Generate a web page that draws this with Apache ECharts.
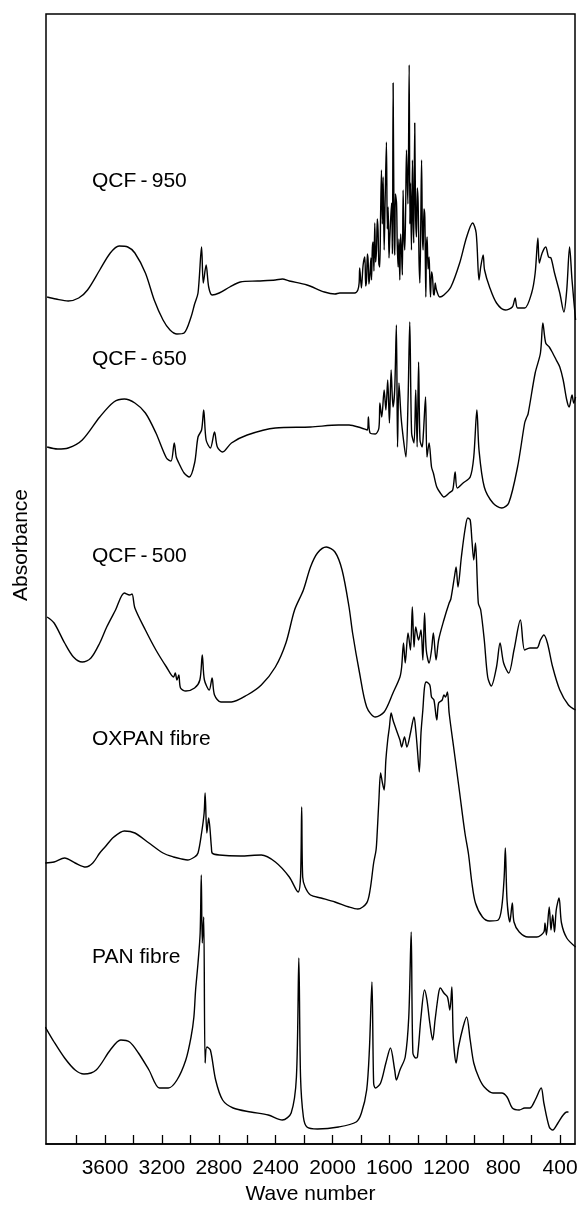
<!DOCTYPE html>
<html>
<head>
<meta charset="utf-8">
<title>IR spectra</title>
<script src="https://cdn.jsdelivr.net/npm/echarts@6/dist/echarts.min.js"></script>
<style>
  html, body { margin: 0; padding: 0; background: #fff; }
  #chart { width: 579px; height: 1206px; }
</style>
</head>
<body>
<div id="chart"></div>
<script>
// Infrared absorbance spectra, stacked with vertical offsets (arbitrary units).
// Each point is [wave number (cm-1), absorbance + offset].

const tickValues = [3800, 3600, 3400, 3200, 3000, 2800, 2600, 2400, 2200, 2000, 1800, 1600, 1400, 1200, 1000, 800, 600, 400];
const labelValues = [3600, 3200, 2800, 2400, 2000, 1600, 1200, 800, 400];

const seriesNames = ['QCF\u2009-\u2009950', 'QCF\u2009-\u2009650', 'QCF\u2009-\u2009500', 'OXPAN fibre', 'PAN fibre'];

const qcf950 = [
  [4007,84.7],[3945,84.5],[3859,84.3],[3785,84.6],[3723,85.4],[3637,87.4],[3563,89.1],[3501,89.8],[3440,89.7],[3390,89.1],
  [3316,87.1],[3254,84.4],[3192,82.4],[3143,81.4],[3094,81.0],[3044,81.1],[2995,82.7],[2970,84.0],[2946,85.1],[2921,89.7],
  [2909,86.1],[2889,87.9],[2871,85.7],[2847,84.9],[2797,85.1],[2723,85.7],[2649,86.2],[2526,86.3],[2402,86.4],[2353,86.5],
  [2304,86.3],[2180,85.9],[2057,85.2],[1983,85.0],[1949,85.1],[1844,85.1],[1822,85.4],[1813,86.1],[1809,87.6],[1797,85.6],
  [1785,87.9],[1773,88.7],[1767,85.8],[1761,86.4],[1755,89.0],[1750,88.4],[1744,86.0],[1738,86.8],[1730,88.6],[1726,86.4],
  [1720,89.6],[1715,90.2],[1709,87.3],[1703,92.1],[1697,88.2],[1691,89.4],[1685,92.5],[1680,91.4],[1674,88.0],[1668,87.7],
  [1662,93.0],[1656,97.4],[1650,92.0],[1644,96.7],[1637,89.4],[1630,94.5],[1621,100.2],[1615,91.5],[1609,93.7],[1603,88.6],
  [1597,90.7],[1585,94.1],[1579,89.0],[1574,106.1],[1567,90.7],[1562,88.9],[1558,95.0],[1550,94.1],[1545,90.0],[1539,87.7],
  [1533,90.5],[1527,86.4],[1521,91.0],[1515,89.4],[1509,86.9],[1504,95.4],[1498,91.0],[1492,89.4],[1486,93.4],[1480,99.4],
  [1470,94.0],[1461,107.9],[1456,92.0],[1452,96.1],[1445,89.4],[1438,98.4],[1433,92.6],[1429,90.1],[1422,102.1],[1416,93.0],
  [1410,90.7],[1404,95.6],[1398,94.1],[1392,88.5],[1386,86.1],[1380,91.5],[1374,98.4],[1368,91.0],[1363,89.4],[1357,93.5],
  [1351,92.7],[1344,84.7],[1340,89.4],[1335,90.7],[1328,87.5],[1321,88.7],[1316,86.4],[1311,84.7],[1304,87.2],[1297,86.7],
  [1290,85.0],[1285,84.9],[1278,86.1],[1269,85.4],[1246,84.7],[1217,84.9],[1168,85.7],[1106,88.1],[1057,90.7],[1015,92.1],
  [990,91.1],[970,86.4],[958,87.7],[941,88.9],[931,87.4],[896,85.7],[847,84.1],[785,83.4],[736,83.7],[716,84.6],
  [699,83.6],[649,83.6],[600,85.1],[575,87.1],[556,90.6],[546,88.1],[526,89.1],[501,89.7],[481,88.7],[464,88.6],
  [439,87.1],[402,85.1],[373,83.2],[353,85.4],[333,89.7],[316,86.4],[291,82.4]
];

const qcf650 = [
  [4007,69.7],[3933,69.5],[3859,69.6],[3760,70.4],[3637,72.7],[3538,74.2],[3464,74.5],[3390,74.1],[3316,73.1],[3242,71.1],
  [3168,68.6],[3136,68.3],[3113,70.1],[3099,68.7],[3081,68.1],[3044,67.1],[3007,66.7],[2970,68.1],[2946,70.7],[2921,71.4],
  [2906,73.4],[2889,70.4],[2859,69.6],[2830,71.2],[2810,69.7],[2773,69.2],[2711,70.1],[2600,70.9],[2402,71.6],[2155,71.7],
  [1958,71.9],[1884,71.9],[1797,71.6],[1755,71.4],[1748,72.7],[1736,71.1],[1699,71.0],[1674,71.6],[1667,74.1],[1654,72.7],
  [1637,75.4],[1625,73.4],[1612,76.4],[1600,72.1],[1588,77.4],[1575,73.7],[1563,75.4],[1551,81.9],[1543,69.7],[1533,76.1],
  [1518,72.7],[1501,70.4],[1484,68.7],[1469,74.4],[1457,82.2],[1444,71.1],[1427,70.1],[1415,75.4],[1405,69.7],[1395,78.2],
  [1385,70.4],[1370,69.7],[1361,71.1],[1346,74.7],[1336,68.7],[1321,70.1],[1304,67.7],[1291,67.1],[1267,65.7],[1242,65.1],
  [1217,64.7],[1180,65.1],[1155,65.4],[1138,67.2],[1123,65.6],[1082,66.1],[1032,66.7],[1007,68.7],[985,73.4],[970,69.4],
  [933,65.7],[872,64.1],[810,63.6],[761,64.1],[699,67.7],[649,72.1],[637,72.6],[625,73.0],[575,77.1],[538,79.1],
  [521,82.1],[501,80.1],[476,79.7],[452,79.1],[427,78.4],[402,77.7],[378,76.4],[353,74.4],[336,73.7],[316,74.9],
  [304,74.1],[291,74.7]
];

const qcf500 = [
  [4007,52.7],[3958,52.1],[3884,50.1],[3822,48.7],[3760,48.2],[3699,48.6],[3637,50.1],[3588,51.7],[3526,53.4],[3464,55.1],
  [3427,54.9],[3410,55.0],[3390,53.6],[3316,51.4],[3242,49.4],[3168,47.7],[3118,46.7],[3106,47.1],[3094,46.4],[3081,46.9],
  [3069,45.6],[3032,45.3],[2970,45.6],[2933,46.4],[2916,48.9],[2901,46.4],[2867,45.4],[2847,46.6],[2830,44.9],[2785,44.2],
  [2711,44.2],[2600,44.9],[2501,45.9],[2402,47.7],[2328,50.1],[2267,53.4],[2205,55.4],[2155,57.7],[2106,59.1],[2044,59.7],
  [1983,59.2],[1933,57.4],[1884,53.7],[1859,51.1],[1810,47.1],[1760,43.7],[1699,42.7],[1637,43.2],[1575,45.1],[1526,46.7],
  [1514,47.7],[1501,50.1],[1489,48.1],[1469,51.1],[1452,49.4],[1439,53.7],[1427,49.7],[1415,51.7],[1395,50.4],[1378,51.4],
  [1365,48.4],[1353,53.1],[1341,49.4],[1321,48.1],[1304,49.4],[1291,51.1],[1272,48.4],[1254,50.4],[1217,52.4],[1180,54.1],
  [1168,54.5],[1143,56.7],[1131,57.7],[1118,55.7],[1094,58.7],[1069,61.4],[1049,62.6],[1032,62.4],[1020,60.4],[1007,58.4],
  [995,60.1],[975,54.1],[958,53.4],[933,50.4],[909,46.7],[884,45.8],[847,47.7],[822,50.1],[797,48.1],[761,47.1],
  [724,49.4],[679,52.4],[649,49.4],[612,49.6],[563,49.6],[538,50.4],[514,50.9],[489,50.1],[452,47.7],[402,45.4],
  [341,43.9],[291,43.4]
];

const oxpan = [
  [4020,28.1],[3958,28.2],[3884,28.6],[3810,28.1],[3736,27.7],[3686,28.1],[3637,29.1],[3600,29.7],[3538,30.7],[3464,31.3],
  [3390,31.1],[3291,30.1],[3192,29.1],[3118,28.7],[3060,28.5],[3020,28.4],[2970,28.7],[2946,29.1],[2921,31.1],[2903,33.1],
  [2896,35.1],[2884,31.1],[2871,32.6],[2852,29.7],[2847,29.1],[2797,28.9],[2649,28.8],[2501,28.9],[2402,28.2],[2304,26.7],
  [2242,25.2],[2225,26.7],[2217,33.7],[2210,26.7],[2193,25.7],[2155,24.9],[2081,24.6],[1983,24.2],[1884,23.7],[1822,23.5],
  [1760,24.1],[1736,25.4],[1711,28.1],[1694,29.4],[1686,31.1],[1674,34.4],[1662,37.1],[1649,36.1],[1637,35.4],[1625,38.4],
  [1612,40.4],[1600,41.7],[1588,43.1],[1575,42.4],[1551,41.4],[1526,40.4],[1514,39.7],[1494,40.7],[1477,39.7],[1452,41.1],
  [1427,42.7],[1415,41.4],[1403,39.4],[1390,37.2],[1378,41.1],[1365,43.4],[1353,45.7],[1341,46.2],[1316,45.9],[1304,44.7],
  [1287,44.4],[1267,42.4],[1254,44.1],[1229,44.4],[1217,44.9],[1205,44.7],[1192,45.2],[1180,43.1],[1143,39.1],[1106,35.1],
  [1069,31.1],[1044,29.0],[1020,26.1],[995,24.1],[946,22.7],[896,22.3],[835,22.4],[810,23.7],[793,26.7],[785,29.6],
  [773,24.4],[753,22.2],[736,24.1],[724,22.2],[687,21.2],[625,20.7],[563,20.7],[514,21.2],[506,22.1],[496,20.9],
  [476,23.7],[464,21.4],[452,22.9],[439,21.2],[427,23.4],[407,24.6],[390,22.1],[353,20.6],[291,19.7]
];

const pan = [
  [4020,11.7],[3958,10.2],[3884,8.6],[3810,7.4],[3748,7.0],[3662,7.4],[3563,9.4],[3489,10.4],[3427,10.2],[3365,9.1],
  [3291,7.4],[3217,5.6],[3155,5.6],[3094,6.4],[3032,8.4],[2995,10.7],[2975,12.7],[2963,15.4],[2946,18.1],[2931,21.1],
  [2923,26.9],[2916,20.1],[2906,22.7],[2896,8.1],[2884,9.7],[2859,9.4],[2822,6.4],[2773,4.4],[2699,3.6],[2575,3.2],
  [2452,2.9],[2353,2.4],[2291,3.1],[2254,6.7],[2237,18.6],[2225,6.7],[2205,2.7],[2180,1.7],[2106,1.5],[1958,1.7],
  [1834,2.2],[1797,3.1],[1760,5.4],[1741,9.4],[1723,16.2],[1711,6.1],[1699,5.6],[1662,6.1],[1625,8.1],[1593,9.6],
  [1563,7.4],[1551,6.4],[1526,7.4],[1489,8.7],[1464,12.7],[1447,21.2],[1435,9.1],[1415,8.6],[1403,8.7],[1378,12.7],
  [1353,15.4],[1336,14.4],[1316,12.1],[1296,10.4],[1279,12.4],[1254,15.1],[1242,15.6],[1217,15.1],[1192,14.7],[1175,13.4],
  [1161,15.7],[1151,10.7],[1131,8.1],[1114,9.7],[1082,11.7],[1057,12.7],[1032,10.4],[1007,8.1],[970,6.6],[933,5.7],
  [872,5.1],[810,5.1],[773,4.7],[736,3.6],[687,3.4],[649,3.6],[612,3.6],[575,4.4],[533,5.6],[514,4.1],
  [476,1.7],[452,1.4],[415,2.1],[378,2.9],[353,3.2],[341,3.2]
];

const spectra = [qcf950, qcf650, qcf500, oxpan, pan];

const FONT = '"Liberation Sans", Arial, sans-serif';
const chart = echarts.init(document.getElementById('chart'), null, { renderer: 'canvas' });

// Curve-name labels sit at the left of each trace
const labelTops = [181, 359, 556, 739, 957];

chart.setOption({
  animation: false,
  backgroundColor: '#fff',
  grid: {
    left: 46, right: 4, top: 14, bottom: 62,
    outerBoundsMode: 'none', containLabel: false,
    show: true, borderColor: '#000', borderWidth: 1.5, backgroundColor: 'transparent'
  },
  xAxis: {
    type: 'value', inverse: true, min: 295, max: 4015,
    axisLine: { show: true, onZero: false, lineStyle: { color: '#000', width: 1.5 } },
    axisTick: { show: true, inside: true, length: 9, customValues: tickValues, lineStyle: { color: '#000', width: 1.3 } },
    axisLabel: {
      customValues: labelValues, color: '#000', fontSize: 21, fontFamily: FONT, margin: 14,
      hideOverlap: false, formatter: v => String(v)
    },
    splitLine: { show: false },
    name: 'Wave number', nameLocation: 'middle', nameGap: 37,
    nameTextStyle: { color: '#000', fontSize: 21, fontFamily: FONT }
  },
  yAxis: {
    type: 'value', min: 0, max: 113,
    axisLine: { show: false }, axisTick: { show: false }, axisLabel: { show: false }, splitLine: { show: false }
  },
  series: spectra.map((d, i) => ({
    name: seriesNames[i], type: 'line', data: d, showSymbol: false, smooth: 0.3,
    lineStyle: { color: '#000', width: 1.4 }, silent: true
  })),
  graphic: seriesNames.map((t, i) => ({
    type: 'text', x: 92, y: labelTops[i],
    style: { text: t, fill: '#000', fontSize: 21, fontFamily: FONT, verticalAlign: 'middle' }
  })).concat([{
    // vertical axis title
    type: 'text', x: 21, y: 545, rotation: Math.PI / 2,
    style: { text: 'Absorbance', fill: '#000', fontSize: 21, fontFamily: FONT, align: 'center', verticalAlign: 'middle' }
  }])
});
</script>
</body>
</html>
